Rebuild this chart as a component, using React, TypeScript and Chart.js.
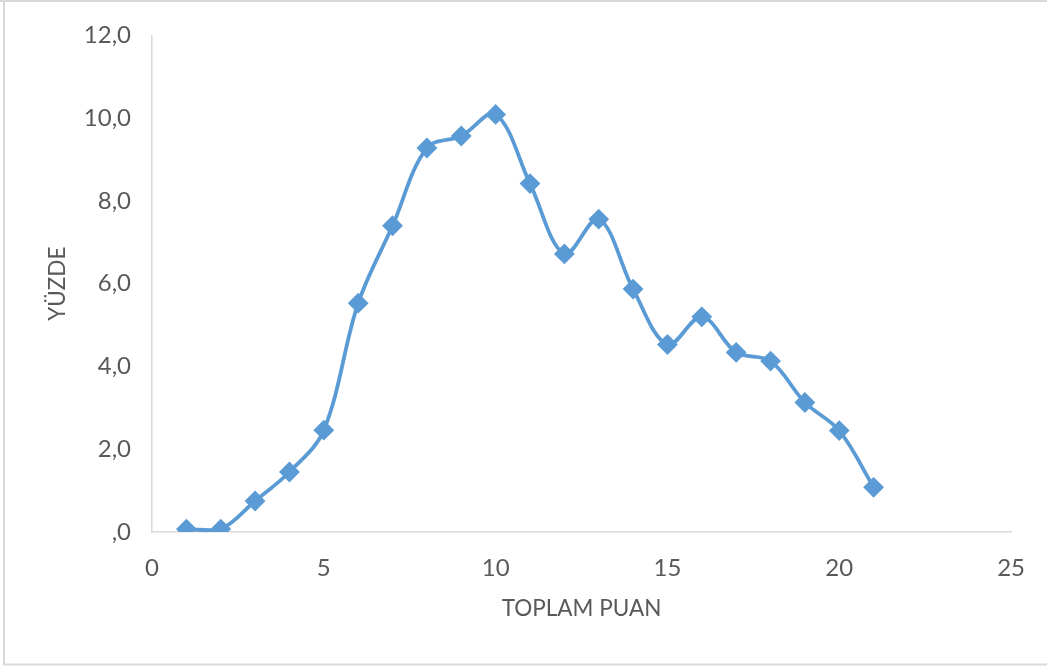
import React, { useEffect, useRef } from "react";
import { Chart, registerables } from "chart.js";

Chart.register(...registerables);

const xValues = [1, 2, 3, 4, 5, 6, 7, 8, 9, 10, 11, 12, 13, 14, 15, 16, 17, 18, 19, 20, 21];
const yValues = [0.07, 0.07, 0.75, 1.45, 2.46, 5.53, 7.4, 9.28, 9.57, 10.09, 8.42, 6.72, 7.56, 5.87, 4.53, 5.2, 4.34, 4.13, 3.13, 2.45, 1.08];
const xTitle = "TOPLAM PUAN";
const yTitle = "YÜZDE";

const LINE = "#5B9BD5";
const AXIS = "#D9D9D9";
const TEXT = "#595959";
const FONT = "Lato, 'Open Sans', sans-serif";

const frame = {
  id: "frame",
  beforeDraw(chart: any) {
    const { ctx, width } = chart;
    ctx.save();
    ctx.strokeStyle = AXIS;
    ctx.lineWidth = 2;
    ctx.beginPath();
    ctx.moveTo(0, 1);
    ctx.lineTo(width, 1);
    ctx.moveTo(4, 0);
    ctx.lineTo(4, 665);
    ctx.moveTo(3, 664.5);
    ctx.lineTo(width, 664.5);
    ctx.stroke();
    ctx.restore();
  },
};

export default function App() {
  const ref = useRef<HTMLCanvasElement>(null);
  useEffect(() => {
    const canvas = ref.current;
    if (!canvas) return;
    const points = xValues.map((x, i) => ({ x, y: yValues[i] }));
    const chart = new Chart(canvas, {
      type: "line",
      data: {
        datasets: [
          {
            data: points,
            borderColor: LINE,
            backgroundColor: LINE,
            borderWidth: 3.8,
            tension: 0.35,
            pointStyle: "rectRot",
            pointRadius: 9,
            pointBorderWidth: 2,
            pointBackgroundColor: LINE,
            pointBorderColor: LINE,
            fill: false,
          },
        ],
      },
      options: {
        animation: false,
        responsive: false,
        maintainAspectRatio: false,
        devicePixelRatio: 1,
        layout: { padding: { left: 0, top: 34, right: 29, bottom: 0 } },
        plugins: {
          legend: { display: false },
          tooltip: { enabled: false },
        },
        scales: {
          x: {
            type: "linear",
            min: 0,
            max: 25,
            grid: { display: false, drawTicks: false },
            border: { color: AXIS, width: 1.5 },
            ticks: {
              stepSize: 5,
              color: TEXT,
              padding: 22,
              font: { family: FONT, size: 24 },
            },
            title: {
              display: true,
              text: xTitle,
              color: TEXT,
              font: { family: FONT, size: 22.5, lineHeight: 1.2 },
              padding: { top: 0, bottom: 48.5 },
            },
            afterFit: (s: any) => {
              s.height = 139;
            },
          },
          y: {
            min: 0,
            max: 12,
            grid: { display: false, drawTicks: false },
            border: { color: AXIS, width: 1.5 },
            ticks: {
              stepSize: 2,
              color: TEXT,
              padding: 21,
              font: { family: FONT, size: 24 },
              callback: (v: any) => (v === 0 ? ",0" : Number(v).toFixed(1).replace(".", ",")),
            },
            title: {
              display: true,
              text: yTitle,
              color: TEXT,
              font: { family: FONT, size: 22.5, lineHeight: 1.2 },
              padding: { top: 44.5, bottom: 0 },
            },
            afterFit: (s: any) => {
              s.width = 152;
            },
          },
        },
      },
      plugins: [frame],
    });
    return () => chart.destroy();
  }, []);
  return (
    <div style={{ position: "absolute", left: 0, top: 0, width: 1047, height: 671, background: "#fff" }}>
      <canvas ref={ref} width={1047} height={671} style={{ width: 1047, height: 671, display: "block" }} />
    </div>
  );
}
